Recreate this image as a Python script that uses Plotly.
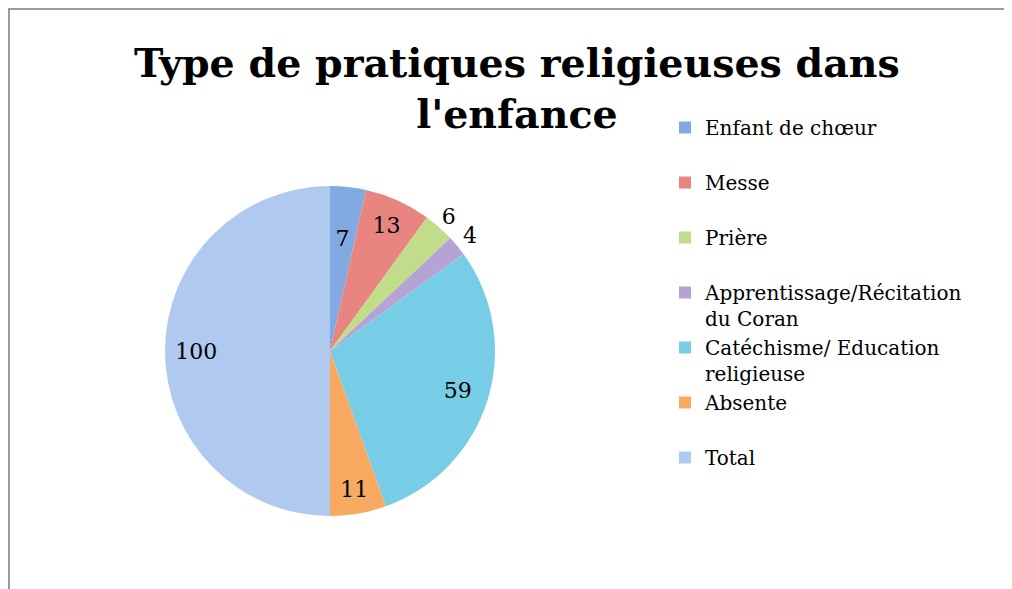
import plotly.graph_objects as go

labels = ["Enfant de chœur<br>&nbsp;", "Messe<br>&nbsp;", "Prière<br>&nbsp;",
          "Apprentissage/Récitation<br>du Coran", "Catéchisme/ Education<br>religieuse",
          "Absente<br>&nbsp;", "Total<br>&nbsp;"]
values = [7, 13, 6, 4, 59, 11, 100]
colors = ["#82aae2", "#e88580", "#c2dd8a", "#b4a3d3", "#78cde6", "#f8aa63", "#b0c9ee"]
# which ring carries each slice's value label: 0 = mid ring, 1 = inner ring, 2 = outside ring
label_ring = [1, 0, 2, 2, 0, 0, 0]

# The page body adds an 8px offset; positions below are given in page pixels
W, H = 1012, 589
OFF = 8
CX, CY, R = 330, 351, 165


def px_x(p):
    return (p - OFF) / W


def px_y(p):
    return 1 - (p - OFF) / H


def domain(k):
    r = R * k
    return dict(x=[px_x(CX - r), px_x(CX + r)], y=[px_y(CY + r), px_y(CY - r)])


font = dict(family="DejaVu Serif", size=22, color="#000000")
common = dict(labels=labels, values=values, sort=False, direction="clockwise", rotation=0)
clear = dict(colors=["rgba(0,0,0,0)"] * len(values), line=dict(width=0))


def text_ring(ring, k, hole):
    return go.Pie(
        **common, hole=hole, marker=clear, domain=domain(k),
        text=[str(v) if g == ring else "" for v, g in zip(values, label_ring)],
        textinfo="text",
        textposition=["inside" if g == ring else "none" for g in label_ring],
        insidetextorientation="horizontal", textfont=font,
        showlegend=False, hoverinfo="skip",
    )


pie_main = go.Pie(
    **common, marker=dict(colors=colors, line=dict(width=0)), domain=domain(1.0),
    textinfo="none", hoverinfo="label+value",
)

fig = go.Figure([
    pie_main,
    text_ring(0, 1.0, 0.62),
    text_ring(1, 0.76, 0.78),
    text_ring(2, 1.17, 0.86),
])

fig.update_layout(
    width=W, height=H, autosize=False,
    margin=dict(l=0, r=0, t=0, b=0),
    paper_bgcolor="white",
    legend=dict(x=px_x(665), xanchor="left", y=px_y(108), yanchor="top",
                font=dict(family="DejaVu Serif", size=20, color="#000000"),
                valign="top", itemwidth=30),
    uniformtext=dict(minsize=22, mode="show"),
    annotations=[dict(text="<b>Type de pratiques religieuses dans<br>l'enfance</b>",
                      xref="paper", yref="paper", x=px_x(517), y=px_y(89),
                      xanchor="center", yanchor="middle", showarrow=False,
                      font=dict(family="DejaVu Serif", size=39.5, color="#000000"))],
    shapes=[
        dict(type="line", xref="paper", yref="paper", x0=0, x1=1, y0=1 - 1 / H, y1=1 - 1 / H,
             line=dict(color="#9a9a9a", width=2)),
        dict(type="line", xref="paper", yref="paper", x0=1 / W, x1=1 / W, y0=0, y1=1,
             line=dict(color="#9a9a9a", width=2)),
    ],
)

fig.write_html("out.html")
